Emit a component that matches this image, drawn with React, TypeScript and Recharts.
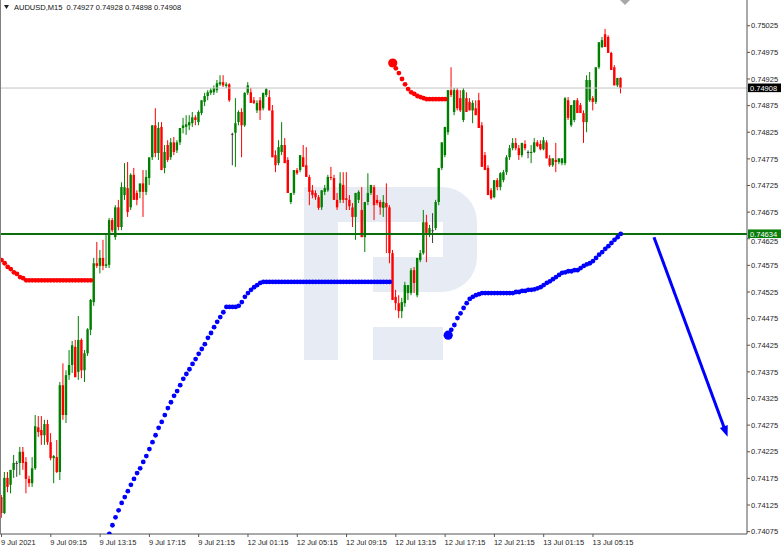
import React from "react";
import { ComposedChart, Bar, Line, XAxis, YAxis, ReferenceLine } from "recharts";

const SYMBOL = "AUDUSD,M15";
const FONT = "'Liberation Sans', Arial, sans-serif";
const GREEN = "#008000";
const RED = "#ff0000";
const DOJI = "#3c3c3c";
const BLUE = "#0000ff";
const AXIS = "#555555";

// bar index of each time label on the bottom axis (M15 bars)
const timeLabelBars = [0, 16, 32, 48, 64, 80, 96, 112, 128, 144, 160, 176, 192];
const timeLabels = [
  "9 Jul 2021", "9 Jul 09:15", "9 Jul 13:15", "9 Jul 17:15", "9 Jul 21:15",
  "12 Jul 01:15", "12 Jul 05:15", "12 Jul 09:15", "12 Jul 13:15", "12 Jul 17:15",
  "12 Jul 21:15", "13 Jul 01:15", "13 Jul 05:15",
];

const priceTicks = [
  0.74075, 0.74125, 0.74175, 0.74225, 0.74275, 0.74325, 0.74375, 0.74425, 0.74475, 0.74525,
  0.74575, 0.74625, 0.74675, 0.74725, 0.74775, 0.74825, 0.74875, 0.74925, 0.74975, 0.75025,
];

const open = [
  0.7414, 0.7411, 0.74176, 0.74163, 0.74191, 0.74204, 0.74204, 0.74225, 0.74206, 0.74174,
  0.74166, 0.74194, 0.74271, 0.74266, 0.74256, 0.74277, 0.74243, 0.74213, 0.74215, 0.74187,
  0.7435, 0.74294, 0.74369, 0.74388, 0.74422, 0.74375, 0.74435, 0.74378, 0.7441, 0.74454,
  0.74506, 0.74579, 0.74574, 0.74589, 0.74574, 0.74576, 0.7466, 0.74628, 0.74684, 0.74647,
  0.74707, 0.7472, 0.74684, 0.74745, 0.74711, 0.74713, 0.74729, 0.74713, 0.74739, 0.74778,
  0.74838, 0.74786, 0.74835, 0.74758, 0.74801, 0.74778, 0.74806, 0.74791, 0.74806, 0.74833,
  0.74835, 0.74838, 0.74842, 0.74853, 0.74844, 0.74861, 0.74882, 0.74893, 0.74899, 0.749,
  0.74904, 0.74915, 0.74919, 0.74912, 0.74915, 0.74822, 0.74824, 0.74844, 0.74863, 0.74838,
  0.74899, 0.749, 0.74885, 0.74866, 0.74885, 0.7487, 0.74895, 0.74891, 0.74866, 0.74782,
  0.74767, 0.74788, 0.74801, 0.74773, 0.74694, 0.74711, 0.74754, 0.74754, 0.74778, 0.74763,
  0.74741, 0.74716, 0.74711, 0.74703, 0.74684, 0.74713, 0.74716, 0.74741, 0.74739, 0.74698,
  0.74698, 0.74726, 0.74701, 0.74698, 0.74684, 0.74666, 0.74698, 0.74679, 0.74628, 0.74694,
  0.74711, 0.74722, 0.74698, 0.74694, 0.74683, 0.74692, 0.74684, 0.74598, 0.74516, 0.74504,
  0.74489, 0.74504, 0.74523, 0.74523, 0.74566, 0.74519, 0.74585, 0.74598, 0.74656, 0.74636,
  0.74641, 0.74645, 0.74694, 0.74758, 0.74782, 0.74825, 0.74904, 0.74863, 0.74904, 0.74889,
  0.74848, 0.74889, 0.74882, 0.74866, 0.7487, 0.74885, 0.74838, 0.74782, 0.74758, 0.74716,
  0.74703, 0.74735, 0.74722, 0.74735, 0.7475, 0.74778, 0.74795, 0.74805, 0.74795, 0.74782,
  0.74803, 0.74788, 0.74786, 0.74788, 0.74806, 0.74803, 0.74793, 0.74806, 0.74776, 0.74763,
  0.74773, 0.74769, 0.74767, 0.74767, 0.74885, 0.74838, 0.74848, 0.74885, 0.74876, 0.74861,
  0.74844, 0.74885, 0.74889, 0.74882, 0.74947, 0.74985, 0.75009, 0.75004, 0.74974, 0.74947,
  0.74913, 0.74927,
];

const high = [
  0.74144, 0.74187, 0.74187, 0.74191, 0.74219, 0.74208, 0.74234, 0.74234, 0.74215, 0.7418,
  0.74215, 0.74294, 0.74292, 0.74292, 0.74285, 0.74285, 0.7426, 0.74219, 0.74247, 0.74356,
  0.74391, 0.74378, 0.74416, 0.74433, 0.74435, 0.7448, 0.74438, 0.74416, 0.74457, 0.74512,
  0.74589, 0.74619, 0.74604, 0.74623, 0.74632, 0.74664, 0.74664, 0.74688, 0.74698, 0.74731,
  0.74767, 0.74769, 0.74748, 0.74758, 0.74716, 0.74726, 0.74754, 0.74754, 0.74754, 0.74838,
  0.7487, 0.74844, 0.74844, 0.74801, 0.7481, 0.74814, 0.74816, 0.7481, 0.74829, 0.74852,
  0.74857, 0.74857, 0.74863, 0.74857, 0.74866, 0.74885, 0.74899, 0.74904, 0.74908, 0.74913,
  0.74923, 0.74932, 0.74932, 0.74919, 0.74917, 0.74824, 0.74889, 0.74866, 0.7487, 0.749,
  0.74919, 0.74908, 0.74891, 0.74885, 0.74891, 0.74899, 0.74908, 0.74904, 0.74876, 0.74791,
  0.7481, 0.74844, 0.74814, 0.74778, 0.74711, 0.74754, 0.74758, 0.74782, 0.74801, 0.74797,
  0.74745, 0.74726, 0.74716, 0.74707, 0.74716, 0.74726, 0.74745, 0.7476, 0.74745, 0.74711,
  0.7475, 0.7475, 0.7475, 0.74707, 0.74692, 0.74711, 0.74716, 0.74722, 0.74694, 0.74748,
  0.74726, 0.74726, 0.74707, 0.74698, 0.74707, 0.74729, 0.74688, 0.74604, 0.74529, 0.74519,
  0.74514, 0.74544, 0.74538, 0.7457, 0.74572, 0.74589, 0.74604, 0.74679, 0.7467, 0.74651,
  0.74673, 0.74698, 0.74758, 0.74806, 0.74835, 0.74904, 0.74947, 0.74908, 0.74908, 0.74904,
  0.74908, 0.749, 0.74889, 0.74885, 0.74885, 0.74899, 0.74844, 0.74788, 0.74763, 0.7472,
  0.74735, 0.74739, 0.7475, 0.74754, 0.74782, 0.74801, 0.74814, 0.74814, 0.74801, 0.74805,
  0.7481, 0.74791, 0.74801, 0.74814, 0.7481, 0.7481, 0.74816, 0.7481, 0.74782, 0.74776,
  0.74805, 0.74776, 0.74776, 0.74891, 0.74891, 0.74876, 0.74885, 0.74889, 0.7488, 0.74866,
  0.74932, 0.74938, 0.74893, 0.74947, 0.74994, 0.75004, 0.75019, 0.75007, 0.74976, 0.74951,
  0.74927, 0.74928,
];

const low = [
  0.74101, 0.74108, 0.74149, 0.74147, 0.74176, 0.74178, 0.74181, 0.74191, 0.74147, 0.74159,
  0.74159, 0.74191, 0.74253, 0.74238, 0.74238, 0.74238, 0.74209, 0.74166, 0.74185, 0.74172,
  0.74285, 0.74279, 0.7436, 0.74373, 0.74365, 0.7436, 0.74363, 0.74356, 0.74405, 0.74444,
  0.74499, 0.7457, 0.7456, 0.74566, 0.7457, 0.7457, 0.74637, 0.74623, 0.74641, 0.74641,
  0.74698, 0.74666, 0.74679, 0.74698, 0.74688, 0.74701, 0.74666, 0.74707, 0.74726, 0.74773,
  0.74778, 0.74773, 0.74754, 0.74748, 0.74769, 0.74773, 0.74782, 0.74786, 0.74801, 0.74823,
  0.7482, 0.74829, 0.74835, 0.74838, 0.74838, 0.74857, 0.74874, 0.74885, 0.74895, 0.74895,
  0.74899, 0.74912, 0.7491, 0.74908, 0.74882, 0.74763, 0.7476, 0.74838, 0.74778, 0.74835,
  0.74895, 0.7488, 0.74878, 0.74861, 0.74848, 0.74866, 0.74891, 0.74866, 0.74778, 0.7475,
  0.74763, 0.74782, 0.74767, 0.74711, 0.7469, 0.74707, 0.74745, 0.7475, 0.7476, 0.74741,
  0.74688, 0.74701, 0.74698, 0.74679, 0.74679, 0.74707, 0.74713, 0.74735, 0.74698, 0.74679,
  0.74692, 0.74692, 0.74679, 0.74679, 0.74647, 0.74623, 0.74692, 0.74628, 0.746, 0.74688,
  0.74707, 0.7466, 0.74688, 0.7467, 0.74666, 0.74598, 0.74579, 0.7451, 0.74491, 0.74476,
  0.74476, 0.74497, 0.7451, 0.74519, 0.74523, 0.74515, 0.74581, 0.74595, 0.74581, 0.74628,
  0.74617, 0.74641, 0.74688, 0.74754, 0.74778, 0.7482, 0.74891, 0.74857, 0.74866, 0.74863,
  0.74844, 0.74863, 0.74866, 0.74842, 0.74857, 0.74833, 0.7476, 0.74754, 0.74707, 0.74698,
  0.74701, 0.74716, 0.74716, 0.74731, 0.74745, 0.74773, 0.74791, 0.74791, 0.74773, 0.74778,
  0.74791, 0.74776, 0.74767, 0.74786, 0.74797, 0.74791, 0.74791, 0.74776, 0.7476, 0.7476,
  0.7475, 0.74765, 0.74763, 0.74763, 0.74848, 0.74835, 0.74844, 0.74861, 0.74861, 0.74805,
  0.74825, 0.74882, 0.74866, 0.74878, 0.74944, 0.74983, 0.74985, 0.74974, 0.74942, 0.74913,
  0.7491, 0.74898,
];

const close = [
  0.7411, 0.74176, 0.74159, 0.74191, 0.74204, 0.74204, 0.74225, 0.74204, 0.74174, 0.74166,
  0.74194, 0.74273, 0.74262, 0.74256, 0.74277, 0.74243, 0.74213, 0.74217, 0.74187, 0.7435,
  0.74294, 0.74369, 0.74388, 0.74425, 0.74365, 0.74435, 0.74378, 0.7441, 0.74455, 0.7451,
  0.74579, 0.74574, 0.74589, 0.74574, 0.74577, 0.7466, 0.74641, 0.74684, 0.74647, 0.74722,
  0.74722, 0.74675, 0.74745, 0.74698, 0.74698, 0.74729, 0.74713, 0.74741, 0.74778, 0.74838,
  0.74786, 0.74833, 0.74754, 0.74788, 0.74773, 0.74806, 0.74788, 0.74806, 0.74833, 0.74838,
  0.7484, 0.74844, 0.74853, 0.74848, 0.74863, 0.74885, 0.74893, 0.749, 0.74904, 0.74908,
  0.74917, 0.74919, 0.74913, 0.74915, 0.74885, 0.74822, 0.74842, 0.74863, 0.74838, 0.74899,
  0.74913, 0.7488, 0.7488, 0.7488, 0.74866, 0.74899, 0.74906, 0.74866, 0.74778, 0.74763,
  0.74797, 0.74801, 0.74767, 0.74711, 0.74711, 0.74754, 0.74748, 0.74782, 0.7476, 0.74741,
  0.74713, 0.74707, 0.74703, 0.74683, 0.74716, 0.7472, 0.74741, 0.74739, 0.74698, 0.74684,
  0.74729, 0.74698, 0.74698, 0.74686, 0.74666, 0.74711, 0.74713, 0.74628, 0.74694, 0.74711,
  0.74726, 0.74688, 0.74692, 0.74684, 0.74694, 0.74684, 0.74598, 0.7451, 0.74504, 0.74489,
  0.74506, 0.74538, 0.74538, 0.74566, 0.74542, 0.74589, 0.74598, 0.74656, 0.74636, 0.74645,
  0.74641, 0.74694, 0.74758, 0.74806, 0.74835, 0.74904, 0.74895, 0.74904, 0.7487, 0.74866,
  0.74904, 0.74863, 0.74866, 0.7488, 0.74857, 0.74833, 0.7476, 0.74754, 0.74707, 0.74701,
  0.74735, 0.74722, 0.74748, 0.7475, 0.74778, 0.74795, 0.74805, 0.74795, 0.74782, 0.74805,
  0.74795, 0.74788, 0.74788, 0.74806, 0.74799, 0.74793, 0.7481, 0.74776, 0.74763, 0.74776,
  0.74769, 0.74776, 0.74776, 0.74889, 0.74852, 0.74876, 0.74885, 0.74861, 0.74861, 0.74844,
  0.74923, 0.74923, 0.74882, 0.74947, 0.74994, 0.74998, 0.74985, 0.74974, 0.74942, 0.74913,
  0.74927, 0.74908,
];

// Parabolic SAR, one array per trend leg, with the bar index it starts at
const sarDownAStart = 0;
const sarDownA = [
  0.74585, 0.74579, 0.74572, 0.74568, 0.74562, 0.74559, 0.74553, 0.74551, 0.74547, 0.74547,
  0.74547, 0.74547, 0.74547, 0.74547, 0.74547, 0.74547, 0.74547, 0.74547, 0.74547, 0.74547,
  0.74547, 0.74547, 0.74547, 0.74547, 0.74547, 0.74547, 0.74547, 0.74547, 0.74547, 0.74547,
];
const sarUpAStart = 35;
const sarUpA = [
  0.74071, 0.74087, 0.74102, 0.74115, 0.74129, 0.7414, 0.74151, 0.74163, 0.74174, 0.74185,
  0.74194, 0.74206, 0.74217, 0.7423, 0.74243, 0.74256, 0.7427, 0.74281, 0.74294, 0.74307,
  0.74318, 0.7433, 0.74339, 0.7435, 0.74362, 0.74371, 0.7438, 0.7439, 0.74399, 0.74409,
  0.74418, 0.74427, 0.74439, 0.74448, 0.74459, 0.74469, 0.74478, 0.74487, 0.74497, 0.74497,
  0.74497, 0.74497, 0.74499, 0.74506, 0.74516, 0.74523, 0.74529, 0.74534, 0.74538, 0.74542,
  0.74544, 0.74544, 0.74544, 0.74544, 0.74544, 0.74544, 0.74544, 0.74544, 0.74544, 0.74544,
  0.74544, 0.74544, 0.74544, 0.74544, 0.74544, 0.74544, 0.74544, 0.74544, 0.74544, 0.74544,
  0.74544, 0.74544, 0.74544, 0.74544, 0.74544, 0.74544, 0.74544, 0.74544, 0.74544, 0.74544,
  0.74544, 0.74544, 0.74544, 0.74544, 0.74544, 0.74544, 0.74544, 0.74544, 0.74544, 0.74544,
  0.74544, 0.74544,
];
const sarDownBStart = 127;
const sarDownB = [
  0.74955, 0.74945, 0.74936, 0.74925, 0.74915, 0.74906, 0.749, 0.74897, 0.74893, 0.74891,
  0.74889, 0.74887, 0.74887, 0.74887, 0.74887, 0.74887, 0.74887, 0.74887,
];
const sarUpBStart = 145;
const sarUpB = [
  0.74444, 0.74454, 0.74463, 0.74476, 0.74485, 0.74495, 0.74504, 0.74512, 0.74516, 0.74519,
  0.74521, 0.74523, 0.74523, 0.74523, 0.74523, 0.74523, 0.74523, 0.74523, 0.74523, 0.74523,
  0.74523, 0.74523, 0.74525, 0.74525, 0.74527, 0.74527, 0.74529, 0.74529, 0.7453, 0.74532,
  0.74534, 0.74538, 0.74542, 0.74545, 0.74549, 0.74553, 0.74557, 0.74561, 0.74562, 0.74564,
  0.74564, 0.74566, 0.74566, 0.7457, 0.74574, 0.74577, 0.74579, 0.74583, 0.74589, 0.74595,
  0.746, 0.74606, 0.74611, 0.74617, 0.74623, 0.74628, 0.74634,
];
const sarStarts = [sarDownBStart, sarUpBStart];

const levelPrice = 0.74634;
// forecast arrow: bar positions and prices of its two ends
const arrowBars = [211.8, 235.7];
const arrowPrices = [0.74628, 0.74253];

const Y_MIN = 0.740706;
const Y_MAX = 0.750733;
const X_MIN = -0.5;
const X_MAX = 242;

const legValue = (i: number, start: number, arr: number[]) =>
  i >= start && i < start + arr.length ? arr[i - start] : null;

const rows = open.map((o, i) => ({
  i,
  open: o,
  high: high[i],
  low: low[i],
  close: close[i],
  range: [low[i], high[i]],
  sarDown: legValue(i, sarDownAStart, sarDownA) ?? legValue(i, sarDownBStart, sarDownB),
  sarUp: legValue(i, sarUpAStart, sarUpA) ?? legValue(i, sarUpBStart, sarUpB),
}));

const last = rows.length - 1;
const lastPrice = close[last];

function Candle(props: any) {
  const { x, y, width, height, payload } = props;
  if (!payload || y == null || height == null) return null;
  const top = Math.min(y, y + height);
  const h = Math.abs(height);
  const span = payload.high - payload.low || 1e-9;
  const yOf = (v: number) => top + ((payload.high - v) / span) * h;
  const color = payload.close > payload.open ? GREEN : payload.close < payload.open ? RED : DOJI;
  const cx = x + width / 2;
  const b1 = yOf(Math.max(payload.open, payload.close));
  const b2 = yOf(Math.min(payload.open, payload.close));
  return (
    <g>
      <line x1={cx} x2={cx} y1={top} y2={top + h} stroke={color} strokeWidth={1} />
      <rect x={cx - 1.2} y={b1} width={2.4} height={Math.max(b2 - b1, 1)} fill={color} />
    </g>
  );
}

const sarDot = (color: string) => (props: any) => {
  const { cx, cy, payload, index } = props;
  if (payload == null || cy == null || Number.isNaN(cy)) return <g key={`e-${index}`} />;
  const big = sarStarts.includes(payload.i);
  return <circle key={`d-${index}`} cx={cx} cy={cy} r={big ? 4.6 : 2.4} fill={color} />;
};

const redDot = sarDot(RED);
const blueDot = sarDot(BLUE);

function TimeTick(props: any) {
  const { x, y, payload } = props;
  const k = timeLabelBars.indexOf(payload.value);
  return (
    <text x={x - 0.5} y={y + 6} fontSize={7.5} fill="#1e1e1e" fontFamily={FONT}>
      {timeLabels[k]}
    </text>
  );
}

function PriceTick(props: any) {
  const { x, y, payload } = props;
  // the label just under the level box is pushed down a little, as in the terminal
  const nudge = Math.abs(payload.value - levelPrice) < 0.0001 ? 3 : 0;
  return (
    <text x={x} y={y + 2.7 + nudge} fontSize={7.5} fill="#1e1e1e" fontFamily={FONT}>
      {payload.value.toFixed(5)}
    </text>
  );
}

const priceBox = (bg: string, value: number) => (props: any) => {
  const vb = props.viewBox;
  if (!vb) return null;
  const x = vb.x + vb.width + 1;
  return (
    <g>
      <rect x={x} y={vb.y - 4.5} width={33} height={8.6} fill={bg} />
      <text x={x + 2} y={vb.y + 2.6} fontSize={7.5} fill="#ffffff" fontFamily={FONT}>
        {value.toFixed(5)}
      </text>
    </g>
  );
};

function ArrowShape(props: any) {
  const { x1, y1, x2, y2 } = props;
  if ([x1, y1, x2, y2].some((v) => v == null || Number.isNaN(v))) return null;
  const dx = x2 - x1;
  const dy = y2 - y1;
  const len = Math.hypot(dx, dy) || 1;
  const ux = dx / len;
  const uy = dy / len;
  const hl = 11;
  const hw = 4.2;
  const bx = x2 - ux * hl;
  const by = y2 - uy * hl;
  return (
    <g>
      <line x1={x1} y1={y1} x2={bx + ux * 2} y2={by + uy * 2} stroke={BLUE} strokeWidth={3} />
      <polygon
        points={`${x2},${y2} ${bx - uy * hw},${by + ux * hw} ${bx + uy * hw},${by - ux * hw}`}
        fill={BLUE}
      />
    </g>
  );
}

function Watermark() {
  const c = "#e7ebf3";
  return (
    <svg width={782} height={549} style={{ position: "absolute", left: 0, top: 0 }}>
      <rect x={304} y={187} width={34} height={173} fill={c} />
      <path d="M304 187 H442 A35 35 0 0 1 477 222 V257 A35 35 0 0 1 442 292 H304 Z" fill={c} />
      <rect x={338} y={222} width={105} height={35} fill="#ffffff" />
      <rect x={338} y={257} width={35} height={35} fill="#ffffff" />
      <rect x={373} y={327} width={70} height={33} fill={c} />
    </svg>
  );
}

export default function App() {
  const title = `${SYMBOL}  ${open[last].toFixed(5)} ${high[last].toFixed(5)} ${low[last].toFixed(5)} ${close[last].toFixed(5)}`;
  return (
    <div style={{ position: "absolute", left: 0, top: 0, width: 782, height: 549, background: "#ffffff", overflow: "hidden" }}>
      <Watermark />
      <div style={{ position: "absolute", left: 0, top: 0 }}>
        <ComposedChart width={782} height={549} data={rows} margin={{ top: 0, right: 0, bottom: 0, left: 0 }}>
          <XAxis
            type="number"
            dataKey="i"
            domain={[X_MIN, X_MAX]}
            allowDataOverflow
            ticks={timeLabelBars}
            interval={0}
            tick={TimeTick}
            tickSize={3}
            tickLine={{ stroke: AXIS }}
            axisLine={{ stroke: AXIS }}
            height={15}
          />
          <YAxis
            orientation="right"
            domain={[Y_MIN, Y_MAX]}
            allowDataOverflow
            ticks={priceTicks}
            interval={0}
            tick={PriceTick}
            tickSize={3}
            tickMargin={1}
            tickLine={{ stroke: AXIS }}
            axisLine={{ stroke: AXIS }}
            width={35}
          />
          <ReferenceLine y={lastPrice} stroke="#c4c4c4" strokeWidth={1} label={priceBox("#000000", lastPrice)} />
          <ReferenceLine y={levelPrice} stroke="#0a6e0a" strokeWidth={2} label={priceBox("#0b7d0b", levelPrice)} />
          <Bar dataKey="range" shape={Candle} isAnimationActive={false} />
          <Line
            dataKey="sarDown"
            stroke="none"
            dot={redDot}
            activeDot={false}
            isAnimationActive={false}
          />
          <Line
            dataKey="sarUp"
            stroke="none"
            dot={blueDot}
            activeDot={false}
            isAnimationActive={false}
          />
          <ReferenceLine
            segment={[
              { x: arrowBars[0], y: arrowPrices[0] },
              { x: arrowBars[1], y: arrowPrices[1] },
            ]}
            shape={ArrowShape}
            ifOverflow="visible"
          />
        </ComposedChart>
      </div>
      <svg width={782} height={549} style={{ position: "absolute", left: 0, top: 0, pointerEvents: "none" }}>
        <line x1={0.5} y1={0} x2={0.5} y2={534} stroke="#808080" strokeWidth={1} />
        <polygon points="620,0 630,0 625,5" fill="#a8a8a8" />
        <polygon points="4,5 9,5 6.5,9" fill="#222222" />
        <text x={14} y={10} fontSize={7.5} fill="#111111" fontFamily={FONT} style={{ whiteSpace: "pre" }}>
          {title}
        </text>
      </svg>
    </div>
  );
}
